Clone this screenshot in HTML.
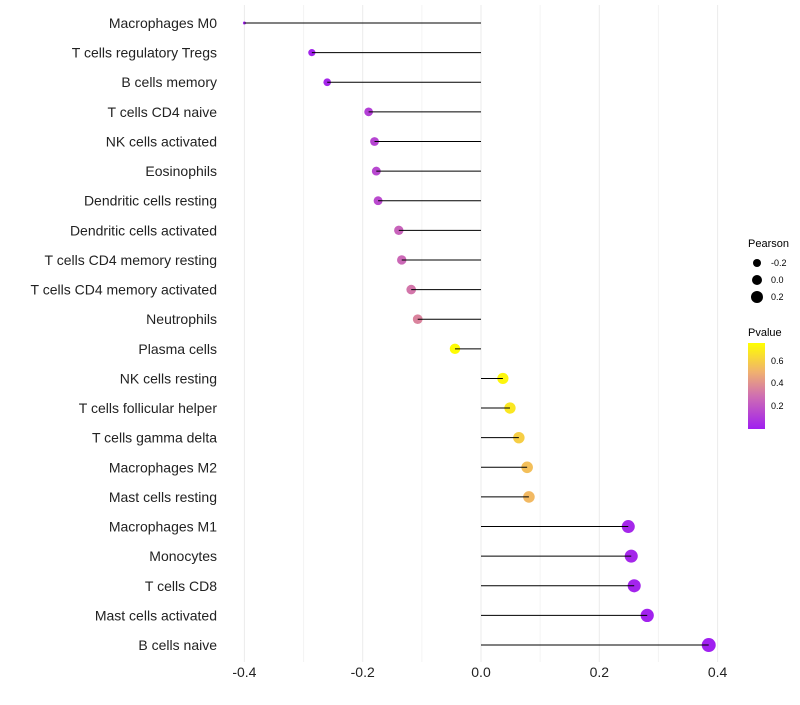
<!DOCTYPE html>
<html><head><meta charset="utf-8"><style>
body{margin:0;background:#fff;font-family:"Liberation Sans",sans-serif}
</style></head><body>
<svg id="chart" width="800" height="700" xmlns="http://www.w3.org/2000/svg">
<defs><linearGradient id="pg" x1="0" y1="1" x2="0" y2="0">
<stop offset="0" stop-color="#a01ff0"/><stop offset="0.39" stop-color="#d070b0"/><stop offset="0.66" stop-color="#f0b070"/><stop offset="1" stop-color="#ffff00"/></linearGradient></defs>
<g id="grid"></g><g id="dots"></g><g id="marks"></g><g id="labels"></g>
<g font-size="10" fill="#000">
<text x="748" y="247" font-size="11">Pearson</text>
<circle cx="757" cy="263" r="4"/><text x="771" y="266" font-size="9">-0.2</text>
<circle cx="757" cy="280" r="5"/><text x="771" y="283" font-size="9">0.0</text>
<circle cx="757" cy="297" r="6"/><text x="771" y="300" font-size="9">0.2</text>
<text x="748" y="336" font-size="11">Pvalue</text>
<rect x="748" y="343" width="17" height="86" fill="url(#pg)"/>
<text x="771" y="364" font-size="9">0.6</text><text x="771" y="386" font-size="9">0.4</text><text x="771" y="409" font-size="9">0.2</text>
</g>
</svg>
<script>
const categories=["Macrophages M0","T cells regulatory  Tregs","B cells memory","T cells CD4 naive","NK cells activated","Eosinophils","Dendritic cells resting","Dendritic cells activated","T cells CD4 memory resting","T cells CD4 memory activated","Neutrophils","Plasma cells","NK cells resting","T cells follicular helper","T cells gamma delta","Macrophages M2","Mast cells resting","Macrophages M1","Monocytes","T cells CD8","Mast cells activated","B cells naive"];
const pearson=[-0.40,-0.286,-0.26,-0.19,-0.18,-0.177,-0.174,-0.139,-0.134,-0.118,-0.107,-0.044,0.037,0.049,0.064,0.078,0.081,0.249,0.254,0.259,0.281,0.385];
const pvalue=[0.01,0.02,0.03,0.12,0.14,0.15,0.16,0.25,0.27,0.32,0.36,0.75,0.73,0.68,0.6,0.55,0.53,0.03,0.03,0.02,0.01,0.002];
const xTicks=[-0.4,-0.2,0.0,0.2,0.4];
const xTickLabels=["-0.4","-0.2","0.0","0.2","0.4"];
const NS="http://www.w3.org/2000/svg";
const x=v=>481+v*591.5;
const y=i=>23+i*29.62;
const r=v=>1.5+5.5*Math.sqrt(Math.max(0,(v+0.4)/0.785));
const stops=[[0,[160,31,240]],[0.3,[208,112,176]],[0.5,[240,176,112]],[0.76,[255,255,0]]];
function col(p){for(let k=1;k<stops.length;k++){if(p<=stops[k][0]||k==stops.length-1){const a=stops[k-1],b=stops[k];let t=Math.max(0,Math.min(1,(p-a[0])/(b[0]-a[0])));return "rgb("+a[1].map((c,j)=>Math.round(c+(b[1][j]-c)*t)).join(",")+")";}}}
function mk(t,at,par){const e=document.createElementNS(NS,t);for(const k in at)e.setAttribute(k,at[k]);document.getElementById(par).appendChild(e);return e;}
[-0.3,-0.1,0.1,0.3].forEach(v=>{const l=mk('line',{x1:x(v),x2:x(v),y1:5,y2:662,stroke:'#f4f4f4','stroke-width':1},'grid');

});
xTicks.forEach((v,i)=>{const l=mk('line',{x1:x(v),x2:x(v),y1:5,y2:662,stroke:'#ebebeb','stroke-width':1},'grid');


const t=mk('text',{x:x(v),y:677,'text-anchor':'middle','font-size':14,fill:'#222'},'labels');t.textContent=xTickLabels[i];

});
categories.forEach((c,i)=>{
const d=mk('circle',{cx:x(pearson[i]),cy:y(i),r:r(pearson[i]),fill:col(pvalue[i])},'dots');


const l=mk('line',{x1:x(0),x2:x(pearson[i]),y1:y(i),y2:y(i),stroke:'#000','stroke-width':1},'marks');


const t=mk('text',{x:217,y:y(i)+5,'text-anchor':'end','font-size':14,fill:'#222'},'labels');t.textContent=c;


});
</script>
</body></html>
